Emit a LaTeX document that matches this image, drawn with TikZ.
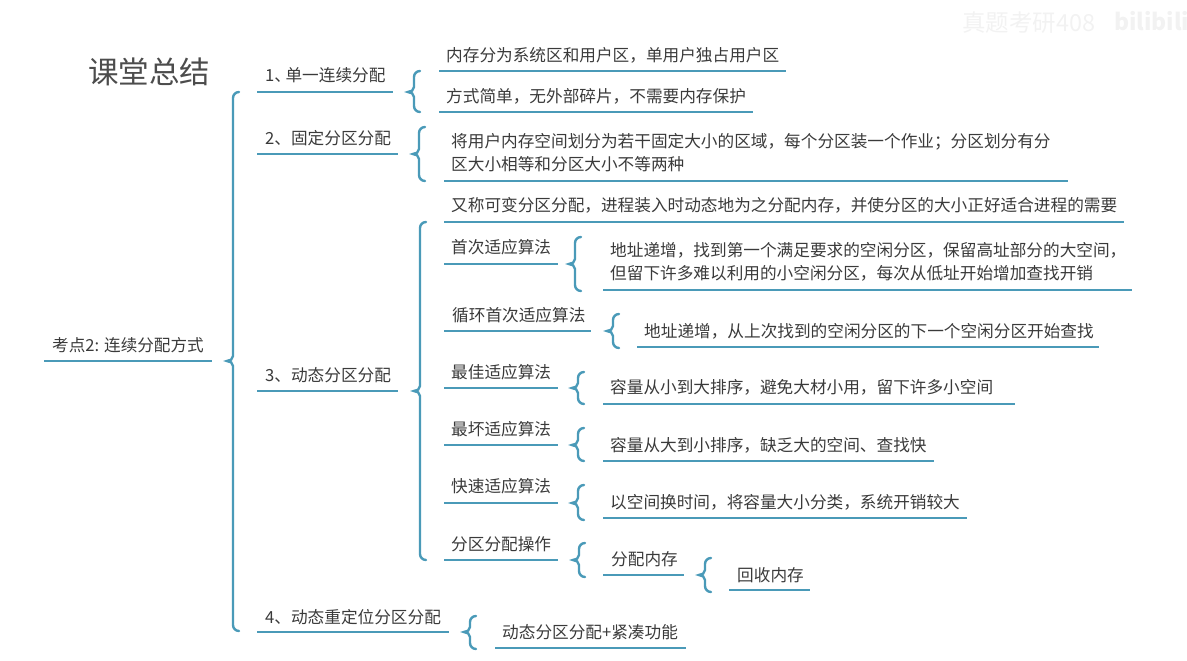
\documentclass[tikz,border=0pt]{standalone}
\usepackage{fontspec}
\setmainfont{Noto Sans CJK SC}
\definecolor{rulec}{HTML}{4A9AB8}
\definecolor{txtc}{HTML}{3A3A3A}
\tikzset{
 x=1pt,y=-1pt,
 lbl/.style={anchor=west,inner sep=0pt,text=txtc,font=\fontsize{16.65}{22.6}\selectfont,align=left},
 rulel/.style={draw=rulec,line width=2.4pt},
 bracel/.style={draw=rulec,line width=2.4pt,line cap=round},
 wm/.style={anchor=west,inner sep=0pt,text=black!5}
}
% name, x0, x1, yline, textx, texty, text
\newcommand\topic[7]{%
 \coordinate (#1-l) at (#2,#4);
 \coordinate (#1-r) at (#3,#4);
 \node[lbl] (#1) at (#5,#6) {#7};
 \draw[rulel] (#1-l) -- (#1-r);
}
% parent, gap, height above, height below
\newcommand\mybrace[4]{%
 \coordinate (#1-t) at ([xshift=#2pt]#1-r);
 \draw[bracel] ([shift={(12pt,#3pt)}]#1-t)
   to[out=180,in=90] ([shift={(6pt,{#3*1pt-6pt})}]#1-t)
   -- ([shift={(6pt,5pt)}]#1-t)
   to[out=-90,in=0] (#1-t)
   to[out=0,in=90] ([shift={(6pt,-5pt)}]#1-t)
   -- ([shift={(6pt,{-#4*1pt+6pt})}]#1-t)
   to[out=-90,in=180] ([shift={(12pt,-#4pt)}]#1-t);
}
\begin{document}
\begin{tikzpicture}
\useasboundingbox (0,0) rectangle (1187,661);
\node[wm,font=\fontsize{23.5}{26}\selectfont] (wma) at (962,23) {真题考研408};
\node[wm,font=\fontsize{23}{26}\bfseries\selectfont] (wmb) at (1114,21) {bilibili};
\node[lbl,font=\fontsize{30.5}{36}\selectfont,text=black!70] (title) at (88,72) {课堂总结};
\topic{root}{44}{212}{361}{52}{345}{\fontsize{16.6}{20}\selectfont 考点2: 连续分配方式}
\mybrace{root}{15}{269}{270}
\topic{one}{257}{393}{92}{265}{75}{1、\hspace{-5.5pt}单一连续分配}
\mybrace{one}{15}{21}{20}
\topic{oa}{439}{786}{71}{446}{55}{内存分为系统区和用户区，单用户独占用户区}
\topic{ob}{439}{753}{112}{446}{96}{方式简单，无外部碎片，不需要内存保护}
\topic{two}{257}{398}{154}{265}{138}{2、固定分区分配}
\mybrace{two}{15}{27}{27}
\topic{ta}{444}{1068}{181}{451}{152.5}{将用户内存空间划分为若干固定大小的区域，每个分区装一个作业；分区划分有分\\区大小相等和分区大小不等两种}
\topic{three}{257}{398}{391}{265}{375}{3、动态分区分配}
\mybrace{three}{16}{169}{169}
\topic{d}{444}{1124}{222}{451}{205}{又称可变分区分配，进程装入时动态地为之分配内存，并使分区的大小正好适合进程的需要}
\topic{ff}{444}{558}{264}{451}{247}{首次适应算法}
\mybrace{ff}{11}{27}{27}
\topic{ffd}{603}{1132}{290}{610}{262}{地址递增，找到第一个满足要求的空闲分区，保留高址部分的大空间，\\但留下许多难以利用的小空闲分区，每次从低址开始增加查找开销}
\topic{nf}{444}{591}{331}{452}{315}{循环首次适应算法}
\mybrace{nf}{16}{17}{17}
\topic{nfd}{637}{1099}{347}{644}{331}{地址递增，从上次找到的空闲分区的下一个空闲分区开始查找}
\topic{bf}{444}{558}{388}{451}{372}{最佳适应算法}
\mybrace{bf}{14}{16}{16}
\topic{bfd}{603}{1015}{404}{610}{387}{容量从小到大排序，避免大材小用，留下许多小空间}
\topic{wf}{444}{558}{445}{451}{429}{最坏适应算法}
\mybrace{wf}{14}{17}{16}
\topic{wfd}{603}{934}{461}{610}{445}{容量从大到小排序，缺乏大的空间、查找快}
\topic{qf}{444}{558}{503}{451}{486}{快速适应算法}
\mybrace{qf}{14}{18}{17}
\topic{qfd}{603}{967}{518}{610}{502}{以空间换时间，将容量大小分类，系统开销较大}
\topic{op}{444}{558}{560}{451}{544}{分区分配操作}
\mybrace{op}{15}{17}{17}
\topic{opa}{603}{684}{575}{611}{559}{分配内存}
\mybrace{opa}{15}{17}{17}
\topic{opb}{729}{810}{590}{737}{575}{回收内存}
\topic{four}{257}{449}{632}{265}{617}{4、动态重定位分区分配}
\mybrace{four}{15}{16}{17}
\topic{fa}{495}{686}{648}{502}{632}{动态分区分配+紧凑功能}
\end{tikzpicture}
\end{document}
